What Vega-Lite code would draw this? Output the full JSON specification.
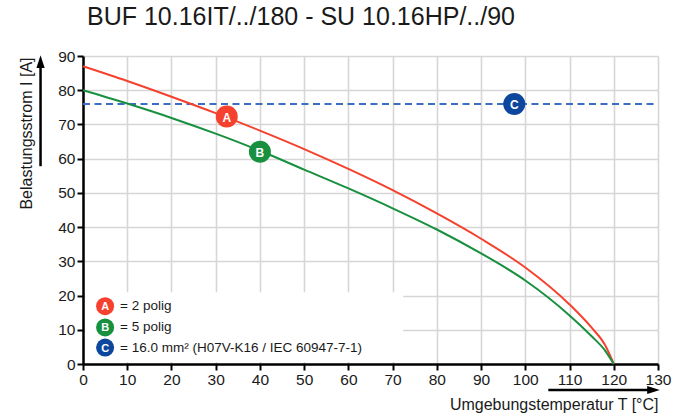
{
  "$schema": "https://vega.github.io/schema/vega-lite/v6.json",
  "width": 575,
  "height": 308,
  "autosize": {"type": "none"},
  "padding": {"left": 83, "top": 56, "right": 29, "bottom": 51},
  "background": "white",
  "config": {"font": "Liberation Sans", "view": {"stroke": null}},
  "title": {"text": "BUF 10.16IT/../180 - SU 10.16HP/../90", "anchor": "start", "frame": "group", "fontSize": 25, "fontWeight": "normal", "color": "#1a1a1a", "baseline": "alphabetic", "offset": 24, "dx": 4, "dy": 25},
  "datasets": {
    "curves": [
      {"series": "A", "T": 0, "I": 87},
      {"series": "A", "T": 10, "I": 82.7},
      {"series": "A", "T": 20, "I": 78.1},
      {"series": "A", "T": 30, "I": 73.3},
      {"series": "A", "T": 40, "I": 68.2},
      {"series": "A", "T": 50, "I": 62.8},
      {"series": "A", "T": 60, "I": 57.0},
      {"series": "A", "T": 70, "I": 50.8},
      {"series": "A", "T": 80, "I": 44.0},
      {"series": "A", "T": 90, "I": 36.6},
      {"series": "A", "T": 100, "I": 28.2},
      {"series": "A", "T": 110, "I": 17.4},
      {"series": "A", "T": 115, "I": 10.6},
      {"series": "A", "T": 118, "I": 5.6},
      {"series": "A", "T": 120, "I": 0},
      {"series": "B", "T": 0, "I": 80},
      {"series": "B", "T": 10, "I": 76.1},
      {"series": "B", "T": 20, "I": 71.9},
      {"series": "B", "T": 30, "I": 67.3},
      {"series": "B", "T": 40, "I": 62.3},
      {"series": "B", "T": 50, "I": 56.8},
      {"series": "B", "T": 60, "I": 51.3},
      {"series": "B", "T": 70, "I": 45.5},
      {"series": "B", "T": 80, "I": 39.3},
      {"series": "B", "T": 90, "I": 32.3},
      {"series": "B", "T": 100, "I": 24.4},
      {"series": "B", "T": 110, "I": 14.2},
      {"series": "B", "T": 115, "I": 8.1},
      {"series": "B", "T": 118, "I": 4.0},
      {"series": "B", "T": 120, "I": 0}
    ],
    "markers": [
      {"series": "A", "T": 32.5, "I": 72.3},
      {"series": "B", "T": 40, "I": 62.0},
      {"series": "C", "T": 97.5, "I": 76}
    ],
    "legend": [
      {"series": "A", "T": 5, "I": 16.9, "text": "= 2 polig"},
      {"series": "B", "T": 5, "I": 10.7, "text": "= 5 polig"},
      {"series": "C", "T": 5, "I": 4.8, "text": "= 16.0 mm² (H07V-K16 / IEC 60947-7-1)"}
    ]
  },
  "layer": [
    {
      "data": {"values": [{}]},
      "mark": {"type": "rect", "fill": "white"},
      "encoding": {
        "x": {"datum": 0.5, "type": "quantitative"},
        "x2": {"datum": 72.4},
        "y": {"datum": 0.6, "type": "quantitative"},
        "y2": {"datum": 21}
      }
    },
    {
      "data": {"values": [{}]},
      "mark": {"type": "rule", "color": "#3b6dc4", "strokeWidth": 2, "strokeDash": [7, 4.5]},
      "encoding": {"x": {"datum": 0}, "x2": {"datum": 130}, "y": {"datum": 76}}
    },
    {
      "data": {"name": "curves"},
      "mark": {"type": "line", "interpolate": "monotone", "strokeWidth": 2},
      "encoding": {
        "x": {"field": "T", "type": "quantitative", "scale": {"domain": [0, 130], "nice": false, "zero": false},
          "axis": {"title": "Umgebungstemperatur T [°C]", "values": [0,10,20,30,40,50,60,70,80,90,100,110,120,130], "tickCount": 30, "labelFlush": false, "labelOverlap": false, "grid": true, "gridColor": "#d6d6d6", "gridWidth": 1.6, "domainColor": "#000", "domainWidth": 2.5, "tickColor": "#000", "tickWidth": 2, "tickSize": 6, "labelFontSize": 15.5, "labelColor": "#1a1a1a", "labelPadding": 2, "titleFontSize": 16, "titleFontWeight": "normal", "titleColor": "#1a1a1a", "titleX": 575, "titleY": 45, "titleAlign": "right", "titleBaseline": "alphabetic", "titleAnchor": "end"}},
        "y": {"field": "I", "type": "quantitative", "scale": {"domain": [0, 90], "nice": false, "zero": false},
          "axis": {"title": "Belastungsstrom I [A]", "values": [0,10,20,30,40,50,60,70,80,90], "tickCount": 30, "labelOverlap": false, "labelFlush": false, "grid": true, "gridColor": "#d6d6d6", "gridWidth": 1.6, "domainColor": "#000", "domainWidth": 2.5, "tickColor": "#000", "tickWidth": 2, "tickSize": 6, "labelFontSize": 15.5, "labelColor": "#1a1a1a", "labelPadding": 2, "titleFontSize": 16, "titleFontWeight": "normal", "titleColor": "#1a1a1a", "titleX": -57, "titleY": 1, "titleAngle": -90, "titleAlign": "right", "titleBaseline": "middle", "titleAnchor": "end"}},
        "color": {"field": "series", "type": "nominal", "scale": {"domain": ["A", "B", "C"], "range": ["#f5412e", "#18903f", "#0c479d"]}, "legend": null}
      }
    },
    {
      "data": {"name": "markers"},
      "mark": {"type": "circle", "size": 484, "opacity": 1},
      "encoding": {
        "x": {"field": "T", "type": "quantitative"},
        "y": {"field": "I", "type": "quantitative"},
        "color": {"field": "series", "type": "nominal", "legend": null}
      }
    },
    {
      "data": {"name": "markers"},
      "mark": {"type": "text", "color": "white", "fontWeight": "bold", "fontSize": 12, "align": "center", "baseline": "middle", "dy": 1},
      "encoding": {
        "x": {"field": "T", "type": "quantitative"},
        "y": {"field": "I", "type": "quantitative"},
        "text": {"field": "series"}
      }
    },
    {
      "data": {"name": "legend"},
      "mark": {"type": "circle", "size": 324, "opacity": 1},
      "encoding": {
        "x": {"field": "T", "type": "quantitative"},
        "y": {"field": "I", "type": "quantitative"},
        "color": {"field": "series", "type": "nominal", "legend": null}
      }
    },
    {
      "data": {"name": "legend"},
      "mark": {"type": "text", "color": "white", "fontWeight": "bold", "fontSize": 11, "align": "center", "baseline": "middle", "dy": 1},
      "encoding": {
        "x": {"field": "T", "type": "quantitative"},
        "y": {"field": "I", "type": "quantitative"},
        "text": {"field": "series"}
      }
    },
    {
      "data": {"name": "legend"},
      "mark": {"type": "text", "color": "#1a1a1a", "fontSize": 13.5, "align": "left", "baseline": "middle", "dx": 15},
      "encoding": {
        "x": {"field": "T", "type": "quantitative"},
        "y": {"field": "I", "type": "quantitative"},
        "text": {"field": "text"}
      }
    },
    {
      "data": {"values": [{}]},
      "mark": {"type": "rule", "color": "black", "strokeWidth": 2.5},
      "encoding": {"x": {"datum": -9.6}, "y": {"datum": 57.8}, "y2": {"datum": 87.5}}
    },
    {
      "data": {"values": [{}]},
      "mark": {"type": "point", "shape": "M0,-1L0.65,1L-0.65,1Z", "size": 160, "filled": true, "color": "black", "opacity": 1},
      "encoding": {"x": {"datum": -9.6}, "y": {"datum": 88.35}}
    },
    {
      "data": {"values": [{}]},
      "mark": {"type": "rule", "color": "black", "strokeWidth": 2.5},
      "encoding": {"x": {"datum": 105.2}, "x2": {"datum": 129}, "y": {"datum": -7.6}}
    },
    {
      "data": {"values": [{}]},
      "mark": {"type": "point", "shape": "M1,0L-1,0.65L-1,-0.65Z", "size": 160, "filled": true, "color": "black", "opacity": 1},
      "encoding": {"x": {"datum": 128.98}, "y": {"datum": -7.6}}
    }
  ]
}
